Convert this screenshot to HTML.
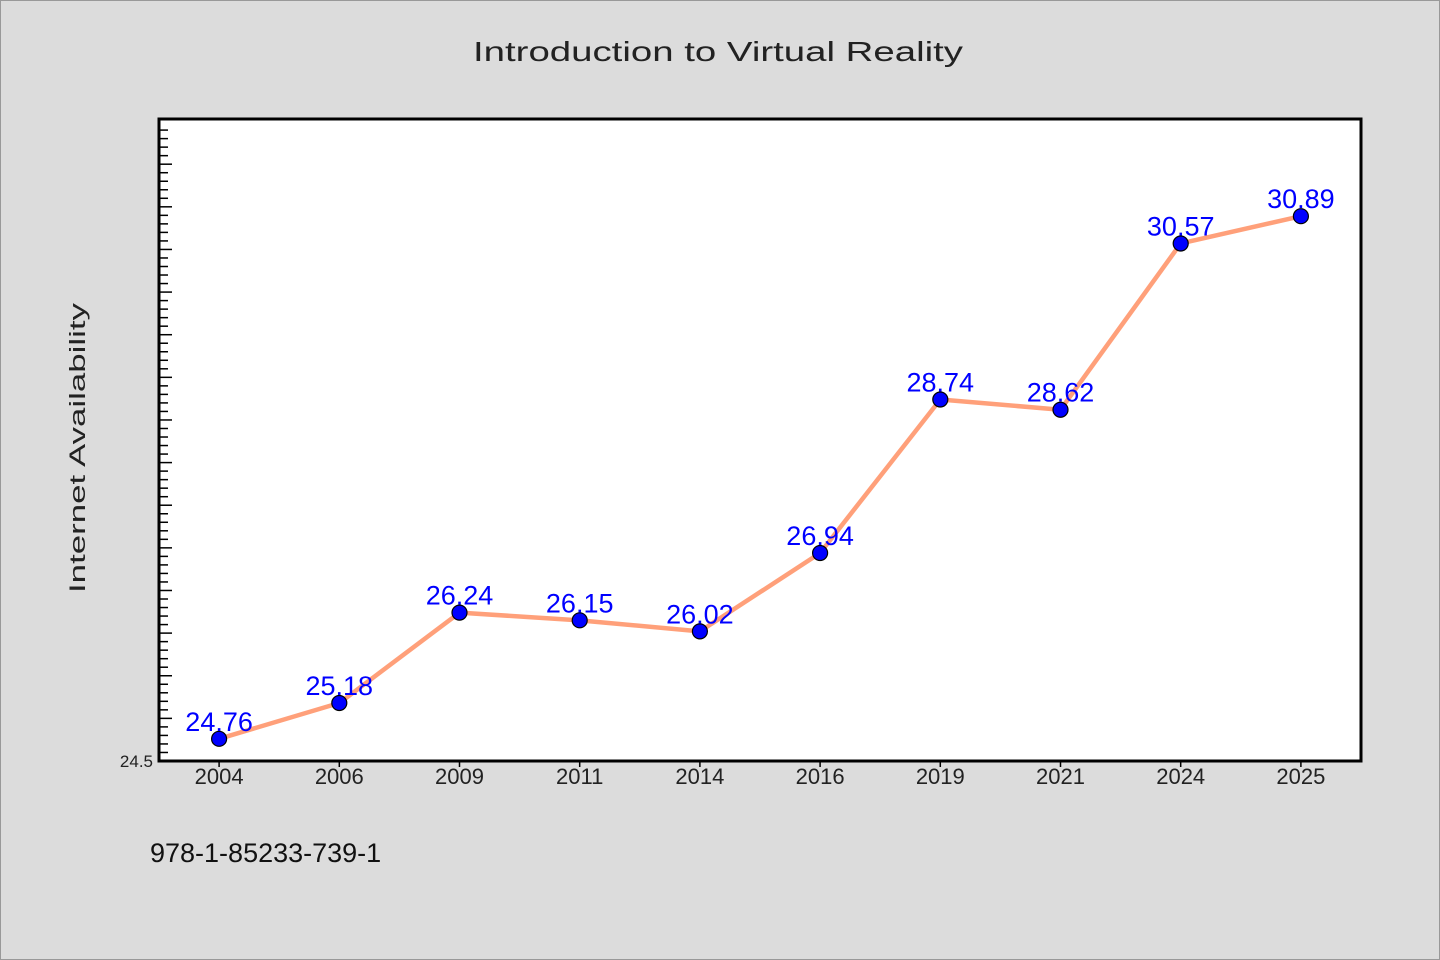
<!DOCTYPE html>
<html><head><meta charset="utf-8"><style>
html,body{margin:0;padding:0;background:#dcdcdc}
svg{display:block}
text{font-family:"WenQuanYi Zen Hei","Liberation Sans",sans-serif}
</style></head><body>
<svg id="chart" width="1440" height="960" xmlns="http://www.w3.org/2000/svg">
<rect x="0.5" y="0.5" width="1439" height="959" fill="#dcdcdc" stroke="#999"/>
<text x="473" y="61" font-size="28" fill="#222" textLength="490" lengthAdjust="spacingAndGlyphs">Introduction to Virtual Reality</text>
<text transform="translate(85,448) rotate(-90)" text-anchor="middle" font-size="22" fill="#222" textLength="290" lengthAdjust="spacingAndGlyphs">Internet Availability</text>
<text x="150" y="862" font-size="27" fill="#111">978-1-85233-739-1</text>
<rect x="159" y="119" width="1202" height="642" fill="#fff"/>
<g id="ticks"></g>
<g id="marks"></g>
<rect x="159" y="119" width="1202" height="642" fill="none" stroke="#000" stroke-width="3"/>
</svg>
<script>
const categories=["2004","2006","2009","2011","2014","2016","2019","2021","2024","2025"];
const values=[24.76,25.18,26.24,26.15,26.02,26.94,28.74,28.62,30.57,30.89];
const yLabels=["24.5"];
const NS="http://www.w3.org/2000/svg";
const x0=159,x1=1361,yTop=119,yBot=761,yMin=24.5,yMax=32.03;
const band=(x1-x0)/categories.length;
const X=i=>x0+band*(i+0.5);
const Y=v=>yBot-(v-yMin)/(yMax-yMin)*(yBot-yTop);
function mk(t,a,p){const e=document.createElementNS(NS,t);for(const k in a)e.setAttribute(k,a[k]);p.appendChild(e);return e;}
const tg=document.getElementById('ticks'),mg=document.getElementById('marks');
for(let k=1;;k++){const v=yMin+k*0.1;const y=Y(v);if(y<yTop+3)break;const major=k%5===0;
const l=mk('line',{x1:x0,x2:x0+(major?13:9),y1:y,y2:y,stroke:'#000','stroke-width':1.5},tg);

}
const yl=mk('text',{x:153,y:Y(yMin)+6,'text-anchor':'end','font-size':17,fill:'#222'},tg);


yl.textContent=yLabels[0];
categories.forEach((c,i)=>{
const t=mk('line',{x1:X(i),x2:X(i),y1:yBot,y2:yBot+6,stroke:'#000','stroke-width':1.5},tg);


const tx=mk('text',{x:X(i),y:yBot+23,'text-anchor':'middle','font-size':22,fill:'#222'},tg);


tx.textContent=c;});
const line=mk('polyline',{points:values.map((v,i)=>X(i)+','+Y(v)).join(' '),fill:'none',stroke:'#ffa07a','stroke-width':4.5,'stroke-linejoin':'round'},mg);


values.forEach((v,i)=>{
const c=mk('circle',{cx:X(i),cy:Y(v),r:7.5,fill:'#0000ff',stroke:'#000','stroke-width':1.2},mg);


const t=mk('text',{x:X(i),y:Y(v)-8,'text-anchor':'middle','font-size':27,fill:'#0000ff'},mg);


t.textContent=v.toFixed(2);});
</script>
</body></html>
